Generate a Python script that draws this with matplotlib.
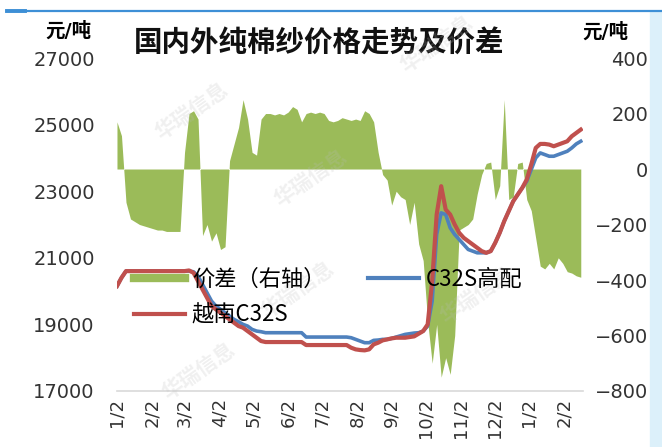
import matplotlib.pyplot as plt
from matplotlib.lines import Line2D
from matplotlib.patches import Rectangle
import pandas as pd

plt.rcParams['font.family'] = ['DejaVu Sans', 'Noto Sans CJK SC']

# 数据：每4天一个点
dates = pd.date_range('2020-01-02', periods=104, freq='4D')

# 价差（右轴，元/吨）
spread = [170, 120, -120, -180, -190, -200, -205, -210, -215, -220,
          -220, -225, -225, -225, -225, 60, 200, 210, 180, -240,
          -200, -260, -230, -290, -280, 30, 90, 150, 250, 180,
          60, 50, 180, 200, 200, 195, 200, 195, 205, 225,
          215, 170, 200, 205, 200, 205, 200, 175, 170, 175,
          185, 180, 175, 180, 175, 210, 200, 170, 60, -20,
          -40, -130, -80, -100, -110, -200, -120, -270, -330, -550,
          -700, -560, -750, -680, -740, -600, -220, -210, -200, -180,
          -90, -20, 20, 25, -110, -60, 250, -110, -100, 20,
          25, -110, -150, -250, -350, -360, -340, -360, -320, -340,
          -370, -375, -385, -390]

# 越南C32S（左轴，元/吨）
vietnam = [20150, 20400, 20600, 20600, 20600, 20600, 20600, 20600, 20600, 20600,
           20600, 20600, 20600, 20600, 20600, 20600, 20620, 20550, 20300, 20050,
           19800, 19550, 19450, 19350, 19250, 19150, 19050, 18950, 18900, 18800,
           18700, 18600, 18500, 18470, 18470, 18470, 18470, 18470, 18470, 18470,
           18470, 18470, 18380, 18380, 18380, 18380, 18380, 18380, 18380, 18380,
           18380, 18380, 18300, 18250, 18230, 18220, 18250, 18400, 18450, 18520,
           18550, 18580, 18600, 18600, 18600, 18620, 18640, 18720, 18800, 19000,
           20300, 22300, 23150, 22450, 22300, 22000, 21750, 21600, 21500, 21400,
           21300, 21200, 21150, 21200, 21450, 21750, 22100, 22400, 22700, 22900,
           23100, 23350, 23800, 24300, 24420, 24420, 24400, 24350, 24400, 24450,
           24500, 24650, 24750, 24850]

# C32S高配（左轴，元/吨）
domestic = [20150, 20400, 20600, 20600, 20600, 20600, 20600, 20600, 20600, 20600,
            20600, 20600, 20600, 20600, 20600, 20600, 20600, 20580, 20450, 20200,
            19950, 19700, 19550, 19450, 19350, 19250, 19150, 19080, 19000, 18950,
            18850, 18800, 18780, 18750, 18750, 18750, 18750, 18750, 18750, 18750,
            18750, 18750, 18620, 18620, 18620, 18620, 18620, 18620, 18620, 18620,
            18620, 18620, 18600, 18550, 18500, 18450, 18450, 18520, 18530, 18550,
            18550, 18580, 18620, 18660, 18700, 18720, 18740, 18750, 18800, 18950,
            19700, 21700, 22350, 22300, 21900, 21700, 21550, 21400, 21250, 21200,
            21150, 21150, 21150, 21200, 21450, 21750, 22100, 22400, 22700, 22900,
            23100, 23300, 23650, 24000, 24150, 24100, 24050, 24050, 24100, 24150,
            24200, 24300, 24420, 24500]

tick_dates = pd.date_range('2020-01-01', '2021-02-01', freq='MS') + pd.Timedelta(days=1)
tick_labels = [f'{d.month}/{d.day}' for d in tick_dates]

green = '#9bbb59'
blue = '#4f81bd'
red = '#c0504d'

fig = plt.figure(figsize=(6.62, 4.47), dpi=100)
ax = fig.add_axes([0.1767, 0.1253, 0.704, 0.7449])
ax2 = ax.twinx()

# 价差面积画在右轴，价格线画在左轴并放在上层
ax2.fill_between(dates, 0, spread, color=green, linewidth=0)
ax.plot(dates, domestic, color=blue, lw=2.6)
ax.plot(dates, vietnam, color=red, lw=3)
ax.set_zorder(ax2.get_zorder() + 1)
ax.patch.set_visible(False)

ax.set_xlim(pd.Timestamp('2020-01-02'), pd.Timestamp('2021-02-19'))
ax.set_ylim(17000, 27000)
ax.set_yticks(range(17000, 27001, 2000))
ax2.set_ylim(-800, 400)
ax2.set_yticks(range(-800, 401, 200))
ax.set_xticks(tick_dates)
ax.set_xticklabels(tick_labels, rotation=90)

for a in (ax, ax2):
    for s in a.spines.values():
        s.set_visible(False)
ax.spines['bottom'].set_visible(True)
ax.spines['bottom'].set_color('#d9d9d9')
ax.spines['bottom'].set_linewidth(1.2)

ax.tick_params(axis='y', length=0, labelsize=14, pad=16, colors='#333333')
ax.tick_params(axis='x', length=0, labelsize=13, pad=5, colors='#333333')
ax2.tick_params(axis='y', length=0, labelsize=14, pad=47, colors='#333333')
for t in ax2.get_yticklabels():
    t.set_ha('right')

# 标题和单位
fig.text(0.482, 0.902, '国内外纯棉纱价格走势及价差', fontsize=20.5, fontweight='bold',
         ha='center', va='center', color='#111111')
fig.text(0.104, 0.931, '元/吨', fontsize=14, fontweight='bold', ha='center', va='center')
fig.text(0.915, 0.928, '元/吨', fontsize=14, fontweight='bold', ha='center', va='center')

# 图例
handles = [Line2D([], [], color=green, lw=6),
           Line2D([], [], color=red, lw=3),
           Line2D([], [], color=blue, lw=3)]
labels = ['价差（右轴）', '越南C32S', 'C32S高配']
fig.legend(handles, labels, loc='upper left', bbox_to_anchor=(123 / 662, 1 - 257 / 447),
           ncol=2, frameon=False, handlelength=2.3, handletextpad=0.3,
           columnspacing=1.9, labelspacing=0.55, borderpad=0,
           prop={'family': ['Noto Sans CJK SC'], 'size': 16})

# 水印
for x, y in [(0.29, 0.75), (0.47, 0.60), (0.45, 0.35), (0.72, 0.34), (0.30, 0.17), (0.66, 0.90)]:
    fig.text(x, y, '华瑞信息', rotation=35, fontsize=15, fontweight='bold',
             color='#bbbbbb', alpha=0.22, ha='center', va='center')

# 顶部蓝线和右侧浅蓝边
fig.add_artist(Line2D([7 / 662, 1], [1 - 11 / 447] * 2, color='#3d8fd6', lw=1.6))
fig.add_artist(Line2D([7 / 662, 25 / 662], [1 - 11 / 447] * 2, color='#3d8fd6', lw=2.8))
fig.add_artist(Rectangle((650 / 662, 0), 12 / 662, 1 - 12 / 447, color='#dcf0fa',
                         transform=fig.transFigure))

fig.savefig('out.png', dpi=100)
